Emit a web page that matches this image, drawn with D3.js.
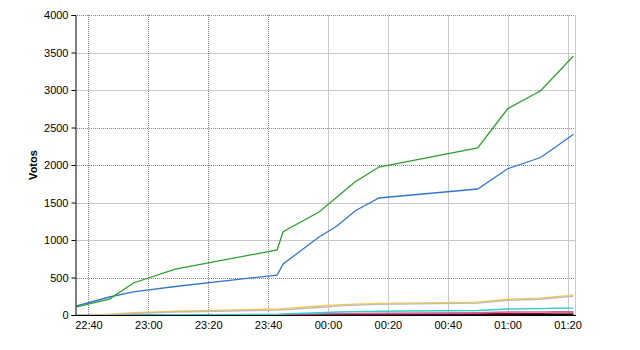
<!DOCTYPE html>
<html lang="es">
<head>
<meta charset="utf-8">
<title>Votos</title>
<script src="https://d3js.org/d3.v7.min.js"></script>
<style>
  body { margin: 0; background: #fff; }
  text { font-family: "Liberation Sans", Arial, sans-serif; font-size: 11px; fill: #000; }
</style>
</head>
<body>
<div id="chart"></div>
<script>
// times of each reading
const times = ["22:36", "22:47", "22:55", "23:09", "23:43", "23:45", "23:57",
  "00:03", "00:09", "00:17", "00:50", "01:00", "01:11", "01:16", "01:22"];

// vote counts per series
const green  = [107, 213, 427, 613, 867, 1110, 1373, 1573, 1773, 1973, 2227, 2750, 2990, 3200, 3455];
const blue   = [120, 240, 307, 380, 533, 680, 1040, 1187, 1387, 1560, 1680, 1950, 2100, 2240, 2410];
const orange = [0, 10, 30, 50, 80, 85, 120, 135, 145, 155, 170, 210, 225, 245, 265];
const grey   = [0, 5, 20, 40, 65, 70, 100, 118, 132, 142, 158, 195, 210, 230, 252];
const cyan   = [0, 0, 2, 5, 8, 15, 30, 40, 45, 50, 60, 80, 85, 90, 93];
const pink   = [0, 0, 0, 2, 5, 8, 15, 20, 22, 25, 30, 40, 42, 44, 45];
const darkred = [0, 0, 0, 0, 2, 3, 5, 8, 10, 12, 15, 20, 22, 24, 25];
const black  = [0, 0, 0, 0, 0, 1, 2, 2, 3, 3, 4, 5, 5, 6, 6];

const yTicks = [0, 500, 1000, 1500, 2000, 2500, 3000, 3500, 4000];
const xTickLabels = ["22:40", "23:00", "23:20", "23:40", "00:00", "00:20", "00:40", "01:00", "01:20"];

// parse "HH:MM" into a date, times after midnight go to next day
function parseT(s) {
  const [h, m] = s.split(":").map(Number);
  return new Date(2000, 0, h < 12 ? 2 : 1, h, m);
}

const width = 640, height = 350;
const plotL = 75, plotR = 575, plotT = 15, plotB = 315;

const svg = d3.select("#chart").append("svg")
  .attr("width", width)
  .attr("height", height);

const x = d3.scaleTime()
  .domain([new Date(2000, 0, 1, 22, 35, 40), new Date(2000, 0, 2, 1, 22, 20)])
  .range([plotL + 0.5, plotR - 0.5]);

const y = d3.scaleLinear().domain([0, 4000]).range([plotB, plotT]);

// grid lines (some drawn dotted, some solid, as in the original)
const yDotted = [500, 2000, 2500, 4000];
svg.append("g").selectAll("line")
  .data(yTicks.filter(d => d > 0))
  .join("line")
  .attr("x1", plotL).attr("x2", plotR)
  .attr("y1", d => Math.round(y(d)) + 0.5).attr("y2", d => Math.round(y(d)) + 0.5)
  .attr("stroke", d => yDotted.includes(d) ? "#888" : "#c8c8c8")
  .attr("stroke-dasharray", d => yDotted.includes(d) ? "1,1" : null);

svg.append("g").selectAll("line")
  .data(xTickLabels)
  .join("line")
  .attr("x1", d => Math.round(x(parseT(d))) + 0.5).attr("x2", d => Math.round(x(parseT(d))) + 0.5)
  .attr("y1", plotT).attr("y2", plotB)
  .attr("stroke", (d, i) => i < 4 ? "#888" : "#c8c8c8")
  .attr("stroke-dasharray", (d, i) => i < 4 ? "1,1" : null);

// right border
svg.append("line")
  .attr("x1", plotR + 0.5).attr("x2", plotR + 0.5)
  .attr("y1", plotT).attr("y2", plotB)
  .attr("stroke", "#c8c8c8");

// series
const series = [
  { v: black, c: "#000000" },
  { v: darkred, c: "#990033" },
  { v: pink, c: "#cc6699" },
  { v: cyan, c: "#33cccc" },
  { v: orange, c: "#ffc64d" },
  { v: grey, c: "#bbbbbb" },
  { v: blue, c: "#3377cc" },
  { v: green, c: "#2e9e2e" }
];

const line = d3.line()
  .x(d => x(d.t))
  .y(d => y(d.v));

svg.append("g").selectAll("path")
  .data(series)
  .join("path")
  .attr("d", s => line(s.v.map((v, i) => ({ t: parseT(times[i]), v: v }))))
  .attr("fill", "none")
  .attr("stroke", s => s.c)
  .attr("stroke-width", 1.3);

// y axis
const yAxis = d3.axisLeft(y).tickValues(yTicks).tickFormat(d3.format("d"))
  .tickSize(4).tickPadding(3);
svg.append("g")
  .attr("transform", `translate(${plotL + 0.5},0)`)
  .call(yAxis)
  .attr("font-family", null).attr("font-size", null)
  .call(g => g.select(".domain").attr("stroke", "#000"))
  .call(g => g.selectAll(".tick line").attr("stroke", "#000"));

// x axis
const xAxis = d3.axisBottom(x)
  .tickValues(xTickLabels.map(parseT))
  .tickFormat(d3.timeFormat("%H:%M"))
  .tickSize(0).tickPadding(6);
svg.append("g")
  .attr("transform", `translate(0,${plotB + 0.5})`)
  .call(xAxis)
  .attr("font-family", null).attr("font-size", null)
  .call(g => g.select(".domain").attr("stroke", "#000").attr("d", `M${plotL},0H${plotR + 1}`));

// y label
svg.append("text")
  .attr("transform", `translate(37,${(plotT + plotB) / 2}) rotate(-90)`)
  .attr("text-anchor", "middle")
  .style("font-weight", "bold")
  .text("Votos");
</script>
</body>
</html>
